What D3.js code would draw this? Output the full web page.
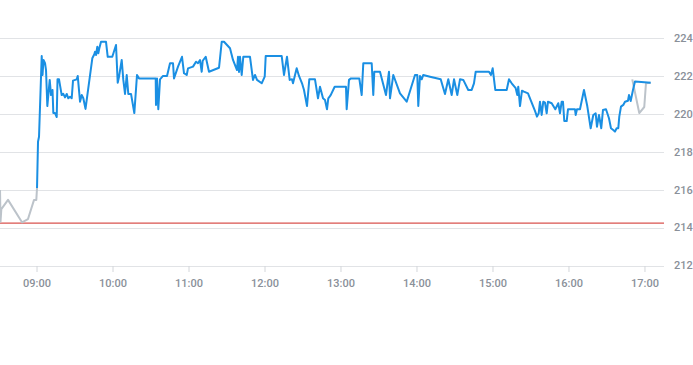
<!DOCTYPE html>
<html>
<head>
<meta charset="utf-8">
<script src="https://cdn.jsdelivr.net/npm/d3@7"></script>
<style>
  html, body { margin: 0; padding: 0; background: #fff; }
  svg { display: block; }
  text { font-family: Roboto, "Noto Sans", sans-serif; }
</style>
</head>
<body>
<svg id="chart" width="693" height="365"></svg>
<script>
// ---- data ----
const preTimes = ["08:31:11","08:31:35","08:32:13","08:37:30","08:48:33","08:53:17","08:58:02","08:59:50","09:00:24"];
const prePrices = [215.98,214.31,214.97,215.46,214.28,214.45,215.46,215.46,216.09];

const mainTimes = ["09:00:24","09:01:11","09:01:58","09:04:06","09:04:44","09:05:32","09:06:43","09:07:30","09:08:32","09:10:25",
"09:11:27","09:12:38","09:13:16","09:14:36","09:15:57","09:16:35","09:17:46","09:19:53","09:21:09","09:22:30",
"09:23:50","09:25:06","09:26:27","09:27:47","09:28:49","09:31:44","09:32:32","09:34:21","09:35:41","09:36:57",
"09:38:41","09:40:53","09:44:03","09:45:38","09:46:11","09:46:58","09:48:00","09:48:47","09:49:35","09:50:55",
"09:54:52","09:56:13","09:59:50","10:02:46","10:04:06","10:05:08","10:07:16","10:08:32","10:09:52","10:11:13",
"10:12:28","10:14:37","10:17:13","10:19:20","10:20:55","10:34:06","10:34:20","10:35:08","10:36:09","10:37:30",
"10:39:52","10:43:02","10:45:24","10:47:46","10:48:33","10:51:43","10:54:52","10:56:27","10:58:35","10:59:37",
"11:03:33","11:05:55","11:07:30","11:09:05","11:10:25","11:11:13","11:13:35","11:16:11","11:24:05","11:26:13",
"11:28:02","11:32:46","11:35:08","11:38:17","11:39:05","11:39:52","11:40:39","11:42:00","11:43:16","11:48:33",
"11:50:55","11:52:30","11:54:05","11:57:47","12:00:10","12:00:57","12:13:35","12:15:23","12:17:46","12:19:53",
"12:21:43","12:22:30","12:25:25","12:27:14","12:29:37","12:31:11","12:33:33","12:35:22","12:39:52","12:42:14",
"12:43:49","12:46:11","12:47:46","12:49:20","12:50:22","12:52:16","12:55:25","13:04:20","13:04:53","13:06:43",
"13:08:17","13:14:50","13:16:44","13:18:00","13:24:38","13:25:53","13:26:41","13:31:11","13:35:55","13:38:17",
"13:39:05","13:41:41","13:46:58","13:52:16","13:58:49","14:00:38","14:01:25","14:02:46","14:04:06","14:05:22",
"14:10:40","14:19:07","14:22:30","14:25:06","14:27:47","14:29:37","14:32:13","14:34:21","14:36:57","14:40:53",
"14:43:35","14:45:23","14:46:44","14:57:14","14:58:49","15:00:10","15:02:13","15:11:13","15:13:02","15:15:10",
"15:18:19","15:19:35","15:20:22","15:21:43","15:23:17","15:24:52","15:28:02","15:30:38","15:33:19","15:35:08",
"15:36:28","15:37:30","15:38:50","15:40:06","15:41:27","15:42:47","15:43:49","15:46:44","15:49:35","15:51:57",
"15:53:17","15:54:38","15:55:40","15:56:41","15:58:35","15:59:37","16:05:08","16:05:41","16:06:43","16:09:05",
"16:12:14","16:14:50","16:17:32","16:19:35","16:21:28","16:22:30","16:24:05","16:25:53","16:27:14","16:29:37",
"16:31:58","16:33:33","16:35:22","16:36:43","16:38:03","16:39:19","16:40:07","16:41:27","16:43:16","16:44:37",
"16:46:58","16:47:46","16:49:07","16:50:55","16:52:30","17:04:53"];
const mainPrices = [216.09,218.53,218.79,223.05,222.05,222.84,222.67,222.31,220.41,221.79,
220.99,221.26,220.04,220.04,219.83,221.82,221.82,220.99,221.05,220.87,
221.05,220.82,220.90,220.82,221.75,221.82,222.00,220.64,220.99,220.82,
220.26,221.35,222.93,223.14,223.28,223.10,223.54,223.19,223.46,223.80,
223.80,223.01,223.01,223.63,221.64,221.96,222.84,221.79,221.05,222.05,
221.05,221.05,220.04,222.05,221.87,221.87,220.47,221.87,220.24,221.82,
222.00,222.00,222.67,222.67,221.87,222.49,223.01,222.14,222.05,222.40,
222.49,222.75,222.67,222.84,222.22,222.80,223.01,222.22,222.43,223.80,
223.80,223.46,222.84,222.31,223.01,222.21,223.01,222.05,223.01,223.01,
221.79,222.05,221.79,221.61,221.96,223.05,223.05,222.05,223.01,221.79,
221.82,221.61,222.40,222.00,221.61,221.26,220.41,221.82,221.82,220.82,
221.43,220.82,220.73,220.24,220.82,220.99,221.43,221.43,220.24,221.79,
221.87,221.87,220.99,222.67,222.67,220.99,222.22,222.22,220.99,222.22,
220.82,222.05,221.08,220.64,222.05,222.05,220.41,222.00,221.82,222.05,
221.96,221.82,221.05,221.82,220.99,221.82,220.99,221.82,221.79,221.26,
221.26,221.61,222.22,222.22,222.05,222.40,221.26,221.26,221.82,221.61,
221.35,220.99,221.43,220.41,221.22,221.17,221.08,220.64,220.20,219.85,
220.03,220.64,219.94,220.64,220.59,220.03,220.64,220.56,220.24,220.56,
220.03,220.64,220.64,219.62,219.62,220.24,220.24,219.94,220.24,220.24,
221.26,220.41,219.24,219.94,220.03,219.32,219.94,219.24,220.20,220.24,
219.77,219.24,219.15,219.06,219.24,219.24,219.85,220.38,220.47,220.64,
220.69,220.99,220.68,221.26,221.70,221.64];

const postTimes = ["16:50:22","16:55:53","16:59:50","17:01:11","17:04:53"];
const postPrices = [221.82,220.04,220.36,221.61,221.64];

const previousClose = 214.23;
const yTicks = [212,214,216,218,220,222,224];
const xTickLabels = ["09:00","10:00","11:00","12:00","13:00","14:00","15:00","16:00","17:00"];
const domainStart = "08:31:10", domainEnd = "17:15:25";

// ---- scales ----
const parse = d3.timeParse("%H:%M:%S");
const parseHM = d3.timeParse("%H:%M");
const plotLeft = 0, plotRight = 664, plotTop = 38, plotBottom = 265.5;

const x = d3.scaleTime().domain([parse(domainStart), parse(domainEnd)]).range([plotLeft, plotRight]);
const y = d3.scaleLinear().domain([212, 224]).range([plotBottom, plotTop]);

const svg = d3.select("#chart");

// gridlines
svg.append("g").selectAll("line").data(yTicks).join("line")
  .attr("x1", plotLeft).attr("x2", plotRight)
  .attr("y1", d => Math.round(y(d)) + 0.5).attr("y2", d => Math.round(y(d)) + 0.5)
  .attr("stroke", "#e1e3e6").attr("stroke-width", 1);

// y labels (right)
svg.append("g").selectAll("text").data(yTicks).join("text")
  .attr("x", 674).attr("y", d => y(d)).attr("dy", "0.35em")
  .attr("font-size", 11).attr("font-weight", 500).attr("fill", "#8a9099")
  .text(d => d);

// x axis
const xAxis = d3.axisBottom(x)
  .tickValues(xTickLabels.map(parseHM))
  .tickFormat(d3.timeFormat("%H:%M"))
  .tickSize(6).tickPadding(7);
const gx = svg.append("g").attr("transform", `translate(0,${Math.round(plotBottom)})`).call(xAxis);
gx.select(".domain").remove();
gx.selectAll(".tick line").attr("stroke", "#d3d6da");
gx.selectAll(".tick text").attr("font-size", 11).attr("font-weight", 500).attr("fill", "#8a9099")
  .attr("font-family", "Roboto, 'Noto Sans', sans-serif");

// previous close line
svg.append("line")
  .attr("x1", plotLeft).attr("x2", plotRight)
  .attr("y1", y(previousClose)).attr("y2", y(previousClose))
  .attr("stroke", "#d9534f").attr("stroke-width", 1.2);

const line = d3.line()
  .x(d => x(parse(d[0])))
  .y(d => y(d[1]));

const pre = preTimes.map((t, i) => [t, prePrices[i]]);
const post = postTimes.map((t, i) => [t, postPrices[i]]);
const main = mainTimes.map((t, i) => [t, mainPrices[i]]);

svg.append("path").datum(pre).attr("d", line)
  .attr("fill", "none").attr("stroke", "#bcc3ca").attr("stroke-width", 2).attr("stroke-linejoin", "round");
svg.append("path").datum(post).attr("d", line)
  .attr("fill", "none").attr("stroke", "#bcc3ca").attr("stroke-width", 2).attr("stroke-linejoin", "round");
svg.append("path").datum(main).attr("d", line)
  .attr("fill", "none").attr("stroke", "#1a8fe3").attr("stroke-width", 2).attr("stroke-linejoin", "round");
</script>
</body>
</html>
